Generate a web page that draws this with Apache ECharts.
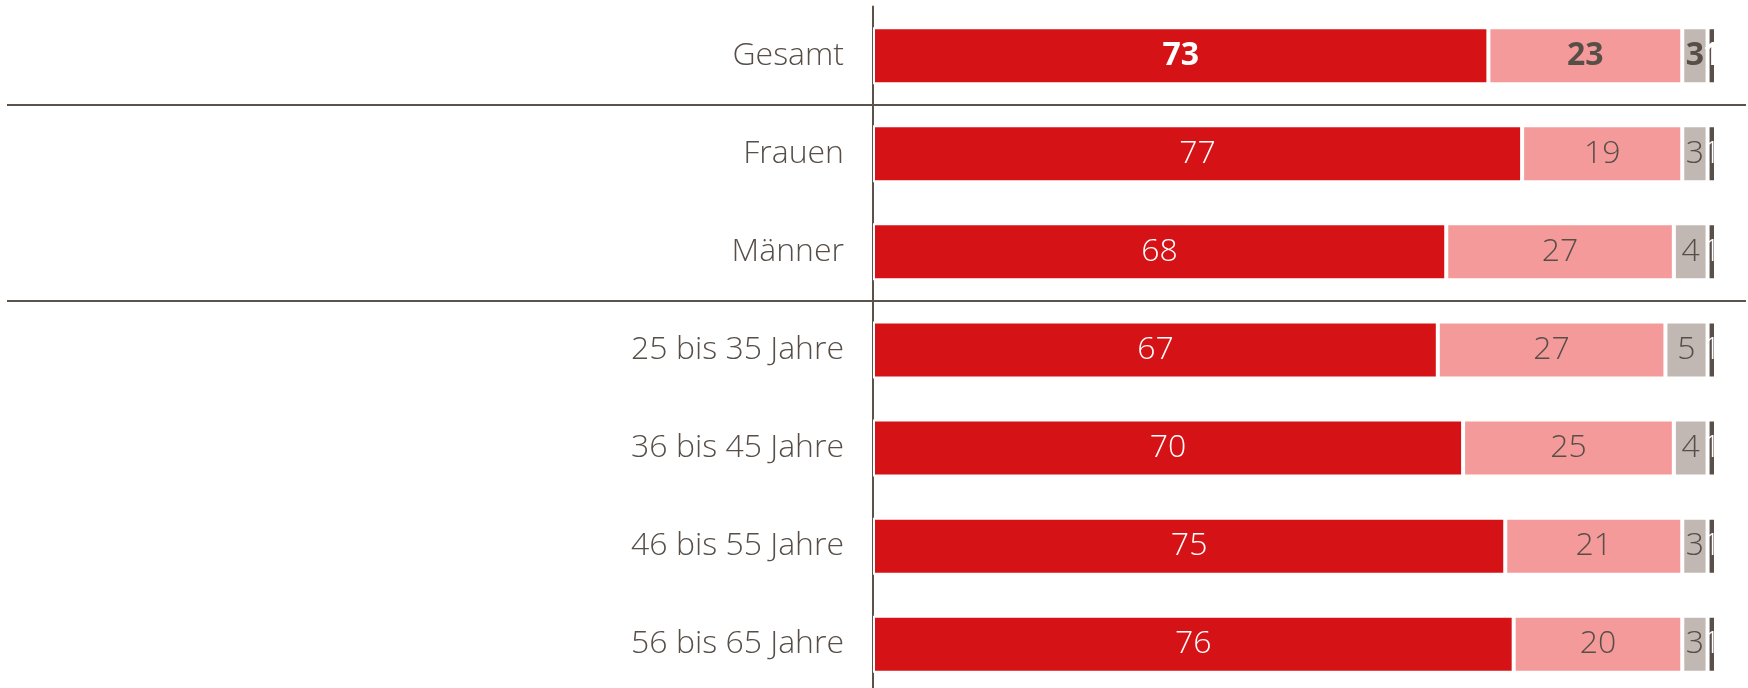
<!DOCTYPE html>
<html>
<head>
<meta charset="utf-8">
<script src="https://cdn.jsdelivr.net/npm/echarts@6/dist/echarts.min.js"></script>
<style>
  html, body { margin: 0; padding: 0; background: #fff; overflow: hidden; }
  /* taller than the window so the lower grid edge can run off the bottom */
  #chart { width: 1748px; height: 760px; }
</style>
</head>
<body>
<div id="chart"></div>
<script>
const categories = ["Gesamt", "Frauen", "Männer", "25 bis 35 Jahre", "36 bis 45 Jahre", "46 bis 55 Jahre", "56 bis 65 Jahre"];
const seriesA = [73, 77, 68, 67, 70, 75, 76];
const seriesB = [23, 19, 27, 27, 25, 21, 20];
const seriesC = [3, 3, 4, 5, 4, 3, 3];
const seriesD = [1, 1, 1, 1, 1, 1, 1];
const separatorAfter = [1, 3]; // lines above these category indexes

const textColor = "#574e48";
const lineColor = "#5b524c";
const font = "Open Sans";
const rowH = 98.1;
const gridTop = 6.6;

function withLabels(values, color) {
  return values.map((v, i) => ({
    value: v,
    label: { fontWeight: i === 0 ? "bold" : 300, color: color }
  }));
}

function barSeries(name, values, fill, labelColor) {
  return {
    name: name,
    type: "bar",
    stack: "total",
    barWidth: 57,
    data: withLabels(values, labelColor),
    itemStyle: { color: fill, borderColor: "#fff", borderWidth: 2 },
    label: {
      show: true,
      position: "inside",
      fontFamily: font,
      fontSize: 32,
      formatter: (p) => p.value
    },
    emphasis: { disabled: true }
  };
}

const chart = echarts.init(document.getElementById("chart"));
chart.setOption({
  animation: false,
  grid: [
    { left: 873, right: 32, top: gridTop, height: rowH * categories.length },
    // separators run across the full width
    { left: 7, right: 2, top: gridTop, height: rowH * categories.length }
  ],
  xAxis: [
    { gridIndex: 0, type: "value", min: 0, max: 100, show: false },
    { gridIndex: 1, type: "value", min: 0, max: 100, show: false }
  ],
  yAxis: [
    {
      gridIndex: 0,
      type: "category",
      data: categories,
      inverse: true,
      axisLine: { show: true, lineStyle: { color: lineColor, width: 2 } },
      axisTick: { show: false },
      splitLine: { show: false },
      axisLabel: { margin: 29, color: textColor, fontFamily: font, fontSize: 32, fontWeight: 300 }
    },
    {
      gridIndex: 1,
      type: "category",
      data: categories,
      inverse: true,
      axisLine: { show: false },
      axisTick: { show: false },
      axisLabel: { show: false },
      splitLine: {
        show: true,
        interval: (i) => separatorAfter.includes(i),
        lineStyle: { color: lineColor, width: 2 }
      }
    }
  ],
  series: [
    barSeries("A", seriesA, "#d51317", "#ffffff"),
    barSeries("B", seriesB, "#f59a9b", textColor),
    barSeries("C", seriesC, "#c2b8b3", textColor),
    barSeries("D", seriesD, "#5b4f4a", "#ffffff")
  ]
});
</script>
</body>
</html>
